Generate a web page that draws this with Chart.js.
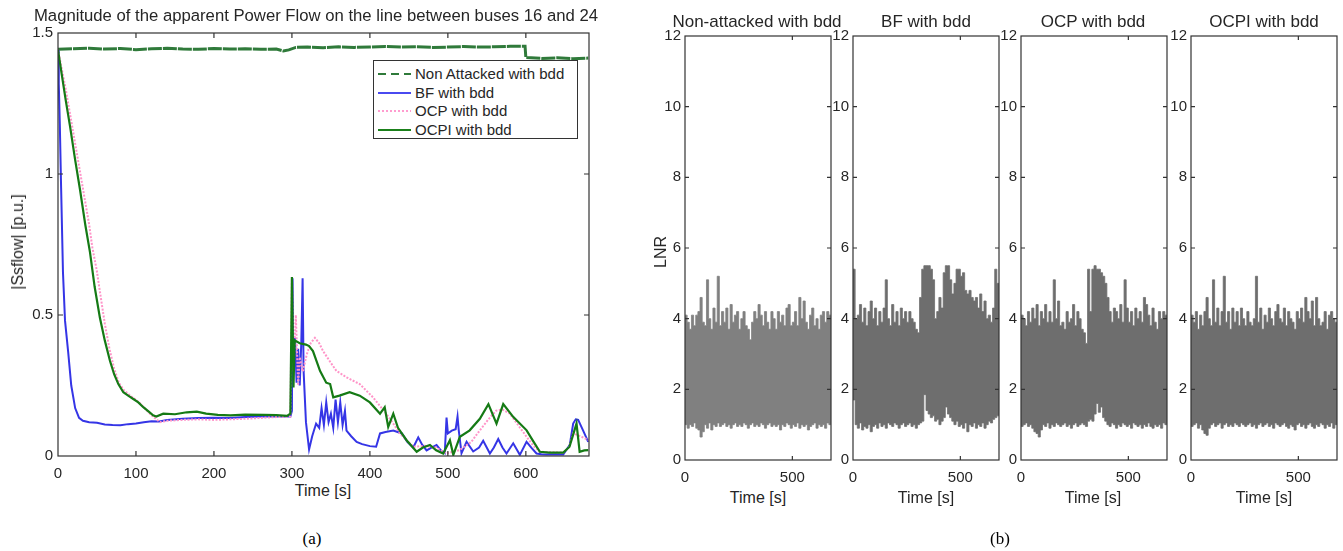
<!DOCTYPE html>
<html>
<head>
<meta charset="utf-8">
<script src="https://cdn.jsdelivr.net/npm/chart.js@4.4.1/dist/chart.umd.min.js"></script>
<style>
  body { margin: 0; background: #fff; font-family: 'Liberation Sans', Arial, sans-serif; color: #262626; }
  #fig { position: relative; width: 1343px; height: 551px; overflow: hidden; }
  canvas { position: absolute; }
  .txt { position: absolute; white-space: nowrap; line-height: 1; transform: translate(-50%, -50%); }
  .rot { transform: translate(-50%, -50%) rotate(-90deg); }
  .cap { font-family: 'Liberation Serif', 'Times New Roman', serif; font-size: 17px; color: #000; }
  #legend { position: absolute; left: 373px; top: 60px; width: 203px; height: 77px; border: 1px solid #333; background: #fff; }
  #legend .row { position: absolute; left: 0; height: 16px; font-size: 15px; line-height: 16px; }
  #legend .smp { position: absolute; left: 4px; top: 7px; width: 33px; height: 2px; }
  #legend .lab { position: absolute; left: 41px; top: 0; white-space: nowrap; }
</style>
</head>
<body>
<div id="fig">
  <canvas id="flow" width="586" height="462" style="left:13px;top:19px"></canvas>
  <canvas id="lnr1" width="182" height="462" style="left:659px;top:23px"></canvas>
  <canvas id="lnr2" width="182" height="462" style="left:827px;top:23px"></canvas>
  <canvas id="lnr3" width="182" height="462" style="left:995px;top:23px"></canvas>
  <canvas id="lnr4" width="182" height="462" style="left:1165px;top:23px"></canvas>

  <div class="txt" style="left:316px;top:16px;font-size:16.7px">Magnitude of the apparent Power Flow on the line between buses 16 and 24</div>
  <div class="txt rot" style="left:18px;top:242px;font-size:16px">|Ssflow| [p.u.]</div>
  <div class="txt" style="left:323px;top:491px;font-size:16px">Time [s]</div>

  <div id="legend">
    <div class="row" style="top:5px"><span class="smp" style="background:repeating-linear-gradient(90deg,#2f7a3a 0 8px,transparent 8px 13px)"></span><span class="lab">Non Attacked with bdd</span></div>
    <div class="row" style="top:23.5px"><span class="smp" style="background:#4a4af0"></span><span class="lab">BF with bdd</span></div>
    <div class="row" style="top:42px"><span class="smp" style="background:repeating-linear-gradient(90deg,#ff9ccf 0 2px,transparent 2px 4px)"></span><span class="lab">OCP with bdd</span></div>
    <div class="row" style="top:60.5px"><span class="smp" style="background:#1a801a"></span><span class="lab">OCPI with bdd</span></div>
  </div>

  <div class="txt" style="left:757px;top:21px;font-size:17px">Non-attacked with bdd</div>
  <div class="txt" style="left:926px;top:21px;font-size:17px">BF with bdd</div>
  <div class="txt" style="left:1093px;top:21px;font-size:17px">OCP with bdd</div>
  <div class="txt" style="left:1264px;top:21px;font-size:17px">OCPI with bdd</div>
  <div class="txt rot" style="left:661px;top:252px;font-size:16px">LNR</div>
  <div class="txt" style="left:758px;top:498px;font-size:16px">Time [s]</div>
  <div class="txt" style="left:926px;top:498px;font-size:16px">Time [s]</div>
  <div class="txt" style="left:1093px;top:498px;font-size:16px">Time [s]</div>
  <div class="txt" style="left:1264px;top:498px;font-size:16px">Time [s]</div>

  <div class="txt cap" style="left:312px;top:538px">(a)</div>
  <div class="txt cap" style="left:1000px;top:538px">(b)</div>
</div>

<script>
// tick positions
const flowTimeTicks = [0, 100, 200, 300, 400, 500, 600];
const flowTicks = [0, 0.5, 1, 1.5];
const lnrTimeTicks = [0, 500];
const lnrTicks = [0, 2, 4, 6, 8, 10, 12];

// Panel (a): |Ssflow| [p.u.] over time, [t, value]
const ntFlow = [
  [0, 1.442], [20, 1.444], [40, 1.446], [60, 1.443], [80, 1.445], [100, 1.441], [120, 1.444],
  [140, 1.446], [160, 1.443], [180, 1.442], [200, 1.445], [220, 1.443], [240, 1.444], [260, 1.442],
  [280, 1.443], [289, 1.436], [296, 1.440], [305, 1.449], [320, 1.450], [340, 1.448], [360, 1.451],
  [380, 1.449], [400, 1.450], [420, 1.452], [440, 1.450], [460, 1.451], [480, 1.449], [500, 1.450],
  [520, 1.452], [540, 1.450], [560, 1.451], [580, 1.453], [599, 1.453], [600, 1.413], [620, 1.410],
  [640, 1.412], [660, 1.409], [680, 1.411],
];
const bfFlow = [
  [0, 1.44], [1, 1.32], [2.3, 1.18], [4, 0.95], [6.4, 0.65], [9, 0.48], [13, 0.37], [17, 0.25],
  [22, 0.17], [27, 0.135], [32, 0.125], [40, 0.12], [50, 0.118], [60, 0.112], [70, 0.11], [80, 0.109],
  [90, 0.113], [100, 0.115], [110, 0.12], [120, 0.123], [130, 0.122], [140, 0.128], [160, 0.132],
  [180, 0.135], [200, 0.136], [220, 0.135], [240, 0.138], [260, 0.14], [280, 0.14], [298, 0.14],
  [300, 0.16], [300.8, 0.63], [302, 0.3], [304, 0.42], [306, 0.26], [308, 0.38], [310, 0.25],
  [312, 0.4], [313.7, 0.63], [315, 0.3], [318, 0.12], [322, 0.023], [326, 0.07], [331, 0.115],
  [335, 0.1], [338, 0.17], [341, 0.11], [344, 0.19], [347, 0.12], [350, 0.15], [353, 0.1],
  [356, 0.2], [359, 0.12], [362, 0.19], [365, 0.11], [368, 0.16], [370, 0.09], [376, 0.07],
  [383, 0.05], [390, 0.042], [400, 0.035], [408, 0.033], [413, 0.08], [420, 0.085], [430, 0.09],
  [441, 0.08], [448, 0.05], [455.6, 0.03], [462, 0.066], [467, 0.04], [472.7, 0.02], [479, 0.03],
  [485.5, 0.039], [491, 0.02], [496, 0.01], [498.3, 0.136], [500, 0.08], [505, 0.09], [510, 0.095],
  [512.4, 0.14], [514, 0.09], [517.5, 0.01], [524, 0.05], [532.5, 0.016], [540, 0.03], [545.3, 0.054],
  [553.9, 0.009], [559, 0.03], [564.6, 0.06], [570, 0.03], [575.2, 0.009], [583.8, 0.045],
  [592.3, 0.004], [600.9, 0.05], [607, 0.03], [613.7, 0.009], [620, 0.006], [626.5, 0.005],
  [640, 0.006], [648, 0.005], [656.4, 0.04], [660.7, 0.115], [664, 0.13], [667.1, 0.128],
  [673.5, 0.09], [680, 0.05],
];
const ocpFlow = [
  [0, 1.44], [5, 1.37], [10, 1.3], [15, 1.22], [20, 1.14], [25, 1.06], [30, 0.98], [35, 0.9],
  [40, 0.82], [44, 0.74], [49.6, 0.66], [55, 0.56], [60, 0.47], [66, 0.38], [72, 0.31], [78, 0.26],
  [84, 0.235], [90, 0.22], [97, 0.205], [104, 0.19], [111, 0.17], [118, 0.15], [124, 0.135],
  [131, 0.12], [140, 0.125], [160, 0.128], [180, 0.13], [200, 0.128], [220, 0.13], [240, 0.132],
  [260, 0.135], [280, 0.138], [298, 0.14], [300, 0.63], [302, 0.3], [305, 0.5], [308, 0.25],
  [310, 0.35], [314, 0.3], [319, 0.36], [324, 0.4], [329.5, 0.419], [335, 0.4], [340, 0.372],
  [350, 0.33], [357, 0.302], [370, 0.279], [387, 0.255], [404, 0.208], [421, 0.15], [430, 0.115],
  [438.5, 0.08], [455.6, 0.033], [470, 0.036], [485, 0.03], [498, 0.009], [515, 0.021], [530, 0.05],
  [541, 0.091], [552, 0.13], [562, 0.161], [570, 0.165], [579.5, 0.15], [590, 0.11], [601, 0.068],
  [610, 0.035], [618, 0.015], [648, 0.012], [655, 0.03], [660.7, 0.08], [670, 0.07], [681, 0.056],
];
const ocpiFlow = [
  [0, 1.44], [5, 1.35], [10, 1.26], [15.4, 1.17], [22, 1.05], [28.2, 0.945], [35, 0.82], [41, 0.723],
  [47, 0.6], [53.8, 0.489], [60, 0.41], [66.7, 0.337], [72, 0.29], [77.4, 0.255], [83.8, 0.226],
  [90, 0.214], [96.6, 0.202], [103, 0.19], [109.4, 0.173], [116, 0.158], [122, 0.144], [126, 0.14],
  [135, 0.15], [150, 0.148], [165, 0.155], [178, 0.157], [190, 0.15], [205, 0.146], [221, 0.144],
  [240, 0.147], [264, 0.146], [280, 0.145], [293.8, 0.142], [298, 0.15], [300, 0.635], [301, 0.45],
  [302, 0.243], [303.5, 0.41], [310, 0.4], [318, 0.395], [322, 0.39], [327, 0.372], [336, 0.302],
  [344, 0.26], [349, 0.255], [353, 0.208], [361, 0.214], [374, 0.226], [387, 0.214], [400, 0.19],
  [413, 0.15], [419, 0.173], [423.5, 0.103], [430, 0.15], [436, 0.1], [447, 0.056], [460, 0.015],
  [468, 0.03], [477, 0.039], [485, 0.02], [494, 0.009], [502.6, 0.056], [507, 0.004], [515.4, 0.068],
  [528, 0.091], [541, 0.132], [552, 0.184], [562.4, 0.115], [571, 0.184], [584, 0.138], [601, 0.091],
  [610, 0.05], [618, 0.015], [630, 0.012], [648, 0.012], [656, 0.033], [665, 0.115], [669, 0.015],
  [675, 0.02], [680, 0.021],
];

// Panel (b): LNR envelope (min / max) per 10 s bin, bin start times
const lnrTime = [
  0, 10, 20, 30, 40, 50, 60, 70, 80, 90, 100, 110, 120, 130, 140, 150, 160, 170, 180, 190,
  200, 210, 220, 230, 240, 250, 260, 270, 280, 290, 300, 310, 320, 330, 340, 350, 360, 370, 380, 390,
  400, 410, 420, 430, 440, 450, 460, 470, 480, 490, 500, 510, 520, 530, 540, 550, 560, 570, 580, 590,
  600, 610, 620, 630, 640, 650, 660, 670,
];
const lnrNonHigh = [
  4.1, 3.9, 3.7, 4.1, 3.8, 4.1, 4.2, 4.6, 3.9, 3.8,
  5.1, 4.0, 3.7, 4.3, 3.9, 5.2, 3.8, 4.2, 3.9, 4.3,
  3.7, 4.4, 3.9, 4.1, 4.2, 3.7, 4.0, 4.2, 3.8, 3.7,
  3.4, 3.9, 4.2, 4.0, 4.4, 4.1, 3.8, 4.2, 3.9, 3.7,
  4.2, 4.0, 3.7, 4.2, 3.9, 4.1, 3.8, 4.3, 4.4, 3.8,
  3.9, 4.2, 3.8, 4.6, 4.0, 4.5, 3.9, 3.7, 4.1, 4.3,
  3.8, 4.0, 3.7, 4.1, 4.2, 3.9, 4.2, 4.1,
];
const lnrNonLow = [
  1.0, 0.9, 1.0, 0.95, 1.05, 0.9, 0.85, 0.65, 0.8, 1.0,
  0.9, 1.05, 0.85, 1.0, 0.95, 1.05, 0.95, 1.0, 1.05, 0.95,
  1.0, 0.9, 1.0, 1.05, 0.95, 1.0, 0.95, 1.05, 1.0, 0.9,
  1.0, 1.05, 0.95, 1.0, 0.95, 1.05, 1.0, 0.9, 1.0, 1.05,
  0.95, 1.0, 0.95, 1.0, 0.85, 1.0, 0.95, 1.05, 1.0, 0.9,
  1.0, 0.95, 1.05, 0.9, 1.0, 0.95, 1.0, 0.85, 0.95, 1.0,
  1.05, 0.9, 1.0, 0.95, 1.0, 0.9, 1.05, 1.0,
];
const lnrBfHigh = [
  5.4, 4.0, 4.1, 4.4, 3.9, 4.3, 3.8, 4.2, 4.5, 4.0,
  4.3, 3.8, 4.2, 3.9, 4.3, 5.1, 4.0, 3.8, 4.4, 3.9,
  4.2, 3.8, 4.3, 4.0, 4.2, 3.9, 4.2, 4.0, 3.9, 3.7,
  3.6, 4.6, 5.4, 5.5, 5.5, 5.5, 5.4, 5.1, 4.0, 4.2,
  4.6, 4.3, 5.3, 5.5, 5.5, 5.1, 4.7, 5.0, 5.4, 5.4,
  5.2, 5.3, 4.8, 4.7, 4.8, 4.6, 4.5, 4.6, 4.3, 4.7,
  4.2, 4.5, 4.0, 4.1, 3.9, 4.3, 5.4, 5.0,
];
const lnrBfLow = [
  1.7, 1.0, 0.9, 1.05, 0.85, 0.95, 0.9, 1.0, 0.8, 0.95,
  1.0, 0.9, 1.05, 0.95, 1.0, 0.9, 1.05, 1.0, 0.95, 1.05,
  1.0, 0.9, 1.0, 1.05, 0.95, 1.0, 1.05, 0.95, 1.0, 0.9,
  1.0, 1.05, 1.1, 1.85, 1.4, 1.3, 1.2, 1.25, 1.1, 1.15,
  1.0, 1.1, 1.2, 1.5, 1.3, 1.2, 1.1, 1.0, 1.1, 0.95,
  1.0, 0.9, 1.05, 0.8, 1.0, 0.95, 1.05, 0.9, 1.0, 0.95,
  1.05, 0.9, 1.0, 1.1, 1.05, 1.15, 1.2, 1.25,
];
const lnrOcpHigh = [
  4.1, 4.0, 3.8, 4.2, 3.9, 4.3, 4.0, 4.4, 3.8, 4.2,
  4.0, 4.4, 3.9, 4.2, 3.9, 5.1, 4.0, 4.5, 3.8, 3.9,
  3.7, 4.2, 3.9, 4.0, 4.4, 3.8, 4.2, 4.0, 3.7, 3.6,
  3.3, 5.4, 4.2, 5.4, 5.5, 5.4, 5.4, 5.3, 5.2, 5.0,
  4.6, 4.2, 3.9, 4.3, 4.2, 4.0, 4.4, 3.9, 5.1, 4.3,
  3.9, 4.2, 3.8, 4.3, 4.0, 4.2, 3.9, 4.6, 4.4, 4.1,
  3.8, 4.3, 3.9, 3.7, 4.2, 4.0, 4.2, 4.1,
];
const lnrOcpLow = [
  0.95, 1.0, 1.05, 0.95, 1.0, 0.9, 0.8, 0.75, 0.65, 0.85,
  1.0, 0.95, 1.05, 0.9, 1.0, 0.95, 1.05, 1.0, 0.95, 1.0,
  1.05, 0.95, 1.0, 0.9, 1.0, 1.05, 0.95, 1.0, 1.05, 1.0,
  0.95, 1.1, 1.15, 1.1, 1.3, 1.6, 1.35, 1.5, 1.2, 1.1,
  1.0, 0.95, 1.05, 1.0, 0.9, 1.0, 0.95, 1.05, 1.0, 0.95,
  1.0, 0.9, 1.05, 1.0, 0.95, 1.0, 0.9, 1.0, 0.95, 1.05,
  0.95, 0.9, 1.0, 0.95, 1.0, 0.9, 1.05, 1.0,
];
const lnrOcpiHigh = [
  4.1, 3.9, 4.2, 3.7, 4.1, 3.8, 4.2, 4.6, 4.0, 3.8,
  5.1, 3.9, 4.3, 3.8, 4.2, 5.2, 3.9, 4.2, 3.7, 4.3,
  3.9, 4.2, 3.8, 4.3, 4.0, 3.8, 4.2, 3.9, 3.8, 4.0,
  5.2, 3.9, 4.3, 3.7, 4.1, 3.9, 4.3, 4.0, 3.8, 4.2,
  4.4, 4.0, 3.9, 4.3, 3.8, 4.2, 4.0, 3.9, 3.7, 4.2,
  4.0, 4.3, 3.9, 4.6, 4.2, 4.0, 4.5, 3.8, 4.6, 4.0,
  3.8, 3.9, 4.2, 3.7, 4.1, 4.2, 4.0, 3.9,
];
const lnrOcpiLow = [
  0.95, 1.0, 1.05, 0.9, 1.0, 0.85, 0.75, 0.7, 0.9, 1.0,
  1.05, 0.95, 1.0, 1.05, 0.9, 1.0, 1.05, 0.95, 1.0, 0.95,
  1.05, 1.0, 0.95, 1.05, 1.0, 0.95, 1.0, 1.05, 0.95, 1.0,
  0.9, 1.0, 1.05, 0.95, 1.0, 1.05, 0.95, 1.0, 0.9, 1.05,
  1.0, 0.95, 1.0, 1.05, 0.95, 0.9, 1.0, 0.95, 0.85, 1.0,
  1.05, 0.95, 1.0, 0.9, 1.0, 1.05, 0.95, 0.9, 1.0, 0.95,
  1.05, 1.0, 0.9, 1.0, 0.95, 1.05, 0.9, 1.0,
];

Chart.defaults.font.family = "'Liberation Sans', Arial, sans-serif";
Chart.defaults.font.size = 15;
Chart.defaults.color = "#262626";

// matlab-like box with ticks pointing inwards on all four sides
const innerTicks = {
  id: "innerTicks",
  afterDatasetsDraw(chart, args, opts) {
    const { ctx, chartArea: a, scales: { x, y } } = chart;
    const len = opts.len || 5;
    ctx.save();
    ctx.strokeStyle = opts.color || "#333";
    ctx.lineWidth = 1.2;
    ctx.beginPath();
    x.ticks.forEach((t) => {
      if (t.value <= x.min || t.value >= x.max) return;
      const px = x.getPixelForValue(t.value);
      ctx.moveTo(px, a.bottom); ctx.lineTo(px, a.bottom - len);
      ctx.moveTo(px, a.top); ctx.lineTo(px, a.top + len);
    });
    y.ticks.forEach((t) => {
      if (t.value <= y.min || t.value >= y.max) return;
      const py = y.getPixelForValue(t.value);
      ctx.moveTo(a.left, py); ctx.lineTo(a.left + len, py);
      ctx.moveTo(a.right, py); ctx.lineTo(a.right - len, py);
    });
    ctx.stroke();
    ctx.strokeRect(a.left, a.top, a.right - a.left, a.bottom - a.top);
    ctx.restore();
  },
};

const toXY = (pairs) => pairs.map(([x, y]) => ({ x, y }));
const useTicks = (list) => (s) => { s.ticks = list.map((v) => ({ value: v })); };

new Chart(document.getElementById("flow"), {
  type: "line",
  data: {
    datasets: [
      { label: "OCPI with bdd", data: toXY(ocpiFlow), borderColor: "#157a15", borderWidth: 2.2, order: 0 },
      { label: "OCP with bdd", data: toXY(ocpFlow), borderColor: "#ff94c8", borderWidth: 2, borderDash: [2, 1.5], order: 1 },
      { label: "BF with bdd", data: toXY(bfFlow), borderColor: "#3535e6", borderWidth: 2, order: 2 },
      { label: "Non Attacked with bdd", data: toXY(ntFlow), borderColor: "#2f7a3a", borderWidth: 3, borderDash: [14, 1], order: 3 },
    ],
  },
  options: {
    responsive: false,
    animation: false,
    events: [],
    elements: { point: { radius: 0 }, line: { tension: 0 } },
    layout: { padding: { top: 10, right: 10, left: 0, bottom: 0 } },
    plugins: { legend: { display: false }, tooltip: { enabled: false }, innerTicks: { len: 5 } },
    scales: {
      x: {
        type: "linear", min: 0, max: 681,
        grid: { display: false, drawTicks: false }, border: { display: false },
        ticks: { autoSkip: false, maxRotation: 0, padding: 9 },
        afterBuildTicks: useTicks(flowTimeTicks),
        afterFit: (s) => { s.height = 25; },
      },
      y: {
        min: 0, max: 1.5,
        grid: { display: false, drawTicks: false }, border: { display: false },
        ticks: { autoSkip: false, padding: 5, callback: (v) => String(v) },
        afterBuildTicks: useTicks(flowTicks),
        afterFit: (s) => { s.width = 45; },
      },
    },
  },
  plugins: [innerTicks],
});

function lnrChart(id, high, low, color) {
  const band = (vals) => lnrTime.map((t, i) => ({ x: t, y: vals[i] })).concat([{ x: 680, y: vals[vals.length - 1] }]);
  new Chart(document.getElementById(id), {
    type: "line",
    data: {
      datasets: [
        { data: band(low), borderColor: color, borderWidth: 0.8, stepped: true, fill: false },
        { data: band(high), borderColor: color, borderWidth: 0.8, stepped: true, fill: "-1", backgroundColor: color },
      ],
    },
    options: {
      responsive: false,
      animation: false,
      events: [],
      elements: { point: { radius: 0 } },
      layout: { padding: { top: 10, right: 10, left: 0, bottom: 0 } },
      plugins: { legend: { display: false }, tooltip: { enabled: false }, innerTicks: { len: 4 } },
      scales: {
        x: {
          type: "linear", min: 0, max: 680,
          grid: { display: false, drawTicks: false }, border: { display: false },
          ticks: { autoSkip: false, maxRotation: 0, padding: 9 },
          afterBuildTicks: useTicks(lnrTimeTicks),
          afterFit: (s) => { s.height = 25; },
        },
        y: {
          min: 0, max: 12,
          grid: { display: false, drawTicks: false }, border: { display: false },
          ticks: { autoSkip: false, padding: 4 },
          afterBuildTicks: useTicks(lnrTicks),
          afterFit: (s) => { s.width = 26; },
        },
      },
    },
    plugins: [innerTicks],
  });
}

lnrChart("lnr1", lnrNonHigh, lnrNonLow, "#808080");
lnrChart("lnr2", lnrBfHigh, lnrBfLow, "#6e6e6e");
lnrChart("lnr3", lnrOcpHigh, lnrOcpLow, "#6e6e6e");
lnrChart("lnr4", lnrOcpiHigh, lnrOcpiLow, "#6e6e6e");
</script>
</body>
</html>
